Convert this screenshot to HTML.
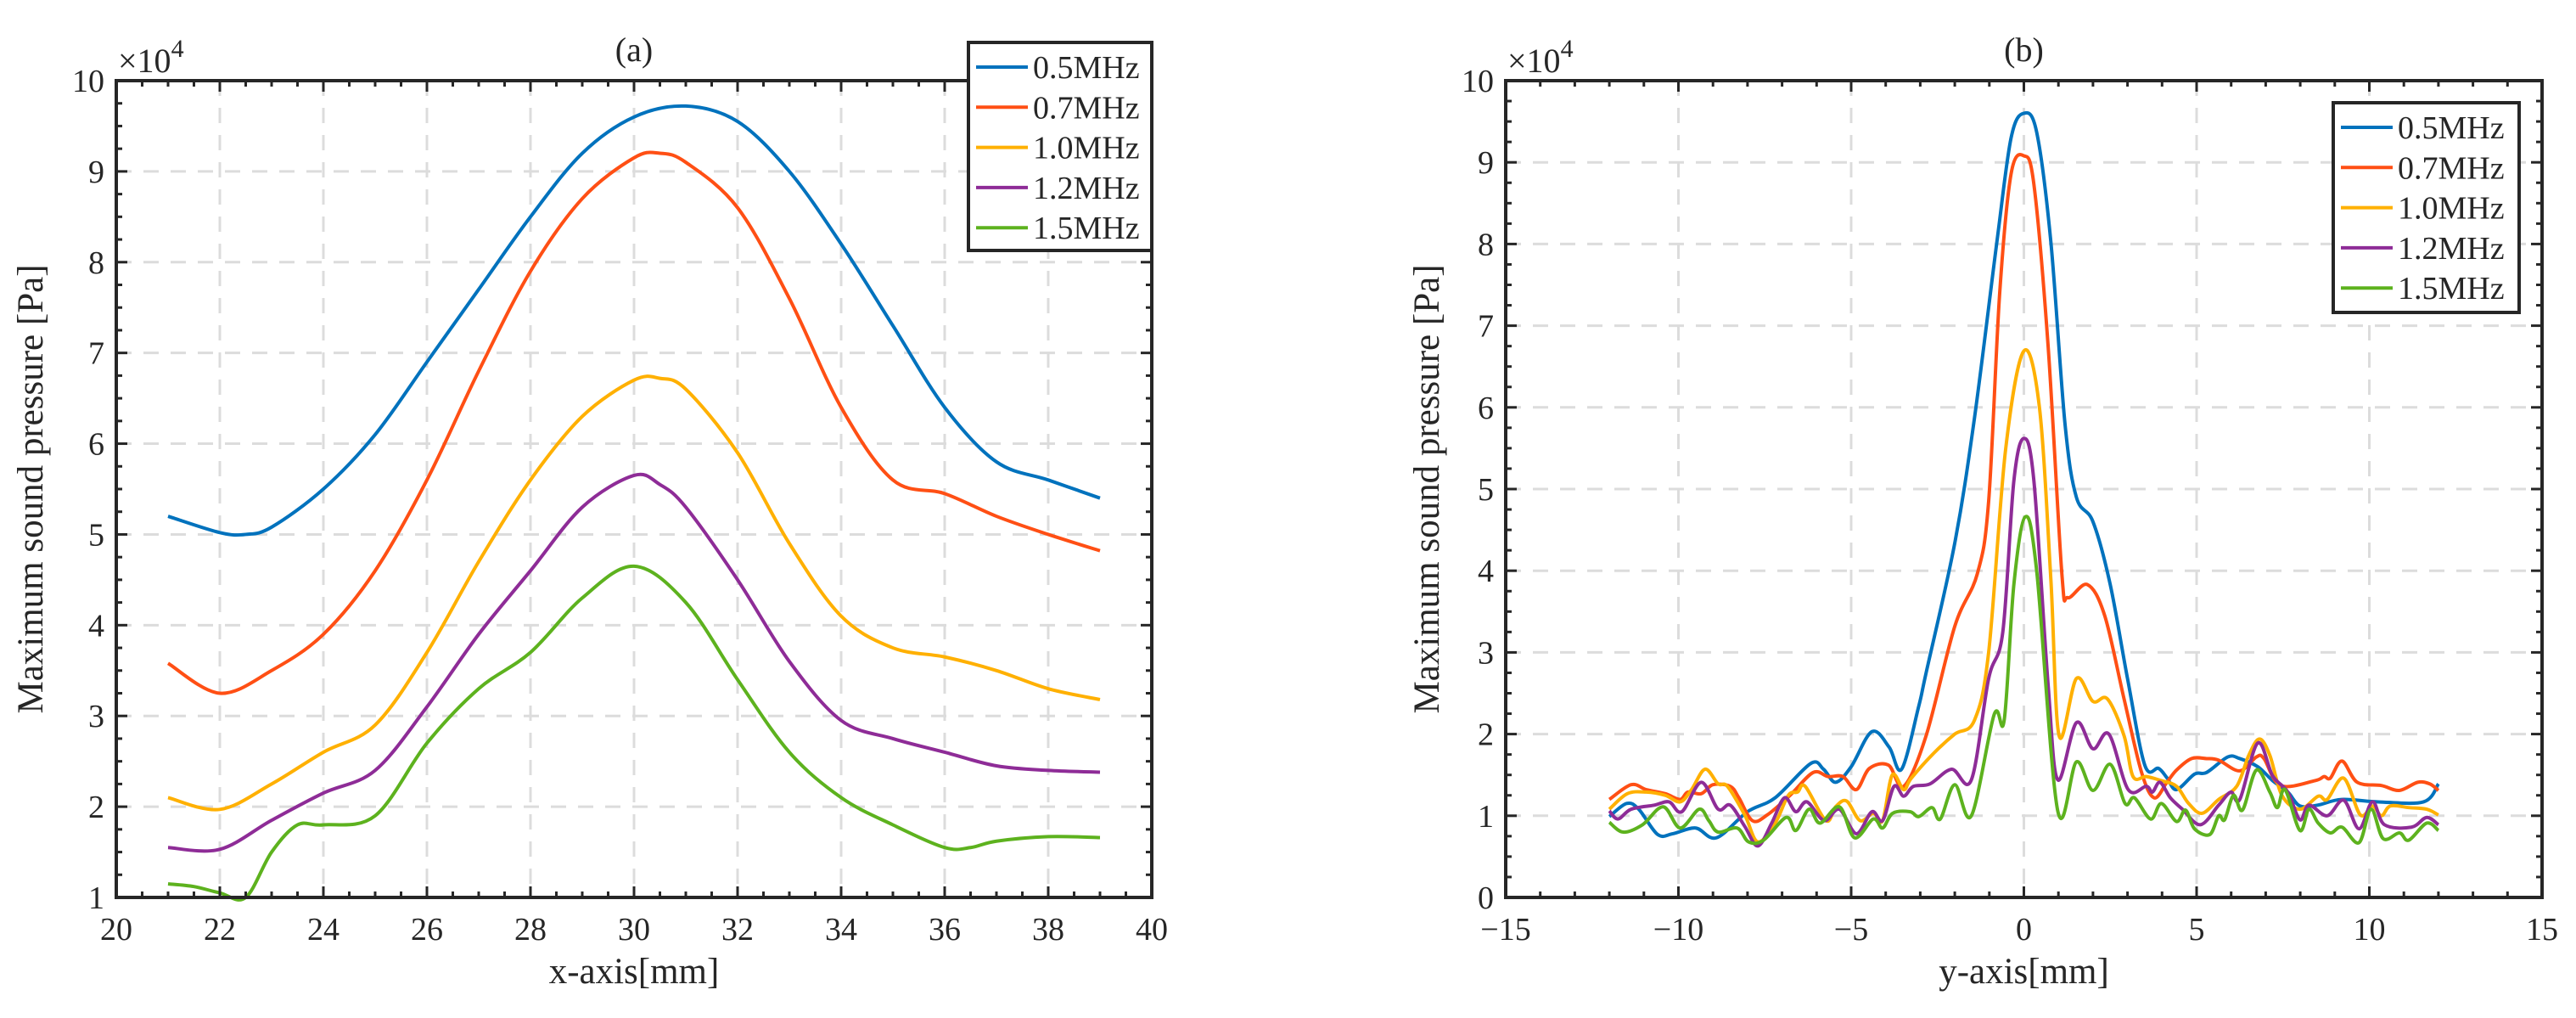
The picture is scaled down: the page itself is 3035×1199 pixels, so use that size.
<!DOCTYPE html>
<html><head><meta charset="utf-8"><style>
html,body{margin:0;padding:0;background:#fff}
svg{display:block}
text{font-family:"Liberation Serif",serif;fill:#262626}
</style></head><body>
<svg id="fig" xmlns="http://www.w3.org/2000/svg" width="3035" height="1199" viewBox="0 0 3035 1199">
<rect width="3035" height="1199" fill="#fff"/>
</svg>
<script>
// ---- Chart (a) data ----
const aSeriesNames = ["0.5MHz","0.7MHz","1.0MHz","1.2MHz","1.5MHz"];
const aX05 = [21,22,22.5,23,24,25,26,27,28,29,30,31,32,33,34,35,36,37,38,39];
const aY05 = [5.2,5.02,5.0,5.08,5.5,6.1,6.9,7.7,8.5,9.2,9.6,9.72,9.55,9.0,8.2,7.3,6.4,5.8,5.6,5.4];
const aX07 = [21,22,23,24,25,26,27,28,29,30,30.5,31,32,33,34,35,36,37,38,39];
const aY07 = [3.58,3.25,3.5,3.9,4.6,5.6,6.8,7.9,8.7,9.15,9.2,9.1,8.6,7.6,6.4,5.6,5.45,5.2,5.0,4.82];
const aX10 = [21,22,23,24,25,26,27,28,29,30,30.5,31,32,33,34,35,36,37,38,39];
const aY10 = [2.1,1.97,2.25,2.6,2.9,3.7,4.7,5.6,6.3,6.7,6.72,6.6,5.9,4.9,4.1,3.75,3.65,3.5,3.3,3.18];
const aX12 = [21,22,23,24,25,26,27,28,29,30,30.5,31,32,33,34,35,36,37,38,39];
const aY12 = [1.55,1.53,1.85,2.15,2.4,3.1,3.9,4.6,5.3,5.65,5.55,5.3,4.5,3.6,2.95,2.75,2.6,2.45,2.4,2.38];
const aX15 = [21,21.5,22,22.5,23,23.5,24,25,26,27,28,29,30,31,32,33,34,35,36,36.5,37,38,39];
const aY15 = [1.15,1.12,1.05,1.0,1.5,1.8,1.8,1.9,2.7,3.3,3.7,4.3,4.65,4.25,3.4,2.6,2.1,1.8,1.55,1.55,1.62,1.67,1.66];
const aXTicks = [20,22,24,26,28,30,32,34,36,38,40];
const aYTicks = [1,2,3,4,5,6,7,8,9,10];

// ---- Chart (b) data ----
const bX05 = [-12,-11.5,-11.15,-10.6,-10.16,-9.5,-8.9,-8,-7.2,-6.17,-5.8,-5.45,-5,-4.4,-3.9,-3.54,-3.05,-2.83,-2,-1.43,-0.78,-0.37,0,0.37,0.78,1.19,1.52,2,2.5,3,3.5,3.9,4.15,4.42,4.94,5.29,5.9,6.25,6.77,7.2,7.64,7.99,8.5,9.2,10.26,11.57,12];
const bY05 = [0.99,1.15,1.08,0.77,0.78,0.85,0.73,1.05,1.22,1.64,1.57,1.41,1.6,2.03,1.84,1.57,2.33,2.75,4.34,5.87,8.03,9.3,9.6,9.37,8.03,5.8,4.9,4.6,3.83,2.68,1.62,1.58,1.46,1.32,1.51,1.53,1.72,1.7,1.6,1.43,1.29,1.12,1.13,1.2,1.17,1.17,1.39];
const bX07 = [-12,-11.37,-10.93,-10.38,-9.95,-9.73,-9.34,-9,-8.5,-8.25,-7.86,-7.43,-6.77,-6.1,-5.67,-5.24,-4.85,-4.47,-3.92,-3.48,-2.83,-2,-1.35,-1.02,-0.7,-0.37,0,0.29,0.7,1.1,1.27,1.84,2.34,2.9,3.4,3.77,4.14,4.42,4.85,5.29,5.64,6.25,6.73,6.95,7.43,8.43,8.69,8.87,9.21,9.65,10.35,10.87,11.4,11.75,12];
const bY07 = [1.2,1.38,1.32,1.27,1.2,1.29,1.27,1.38,1.36,1.22,0.94,1.01,1.25,1.53,1.48,1.48,1.32,1.58,1.62,1.36,1.98,3.32,3.96,4.85,7.4,8.86,9.08,8.73,6.76,3.96,3.67,3.83,3.45,2.43,1.54,1.22,1.41,1.56,1.7,1.7,1.68,1.55,1.72,1.7,1.37,1.43,1.48,1.46,1.67,1.41,1.37,1.31,1.41,1.39,1.31];
const bX10 = [-12,-11.48,-10.93,-10.38,-9.95,-9.62,-9.23,-8.85,-8.58,-8.08,-7.7,-7.2,-6.82,-6.55,-6.33,-5.73,-5.45,-5.13,-4.74,-4.36,-4.09,-3.81,-3.48,-3.26,-2.6,-2.0,-1.43,-1.02,-0.53,0,0.45,0.78,1.02,1.52,2.0,2.42,2.9,3.16,3.54,3.98,4.42,4.77,5.16,5.64,6.16,6.51,6.82,7.12,7.47,7.99,8.52,8.78,9.26,9.74,10.09,10.35,10.61,11.14,11.66,12];
const bY10 = [1.08,1.27,1.29,1.25,1.17,1.32,1.57,1.39,1.36,1.01,0.68,0.91,1.25,1.29,1.36,0.94,1.11,1.18,0.94,1.03,0.94,1.5,1.32,1.46,1.77,2.0,2.17,3.0,5.48,6.69,6.0,3.9,1.98,2.68,2.4,2.43,1.98,1.48,1.48,1.43,1.36,1.15,1.03,1.2,1.36,1.74,1.94,1.74,1.25,1.08,1.24,1.2,1.46,1.01,1.12,1.0,1.12,1.1,1.08,1.01];
const bX12 = [-12,-11.75,-11.37,-10.7,-10.27,-9.9,-9.34,-8.85,-8.5,-8.08,-7.7,-7.3,-6.93,-6.6,-6.28,-5.78,-5.34,-4.85,-4.4,-4.09,-3.76,-3.48,-3.2,-2.72,-2.09,-1.52,-1.02,-0.61,-0.29,0,0.29,0.7,0.98,1.52,2.0,2.46,3.02,3.54,3.72,3.94,4.24,4.59,5.11,5.64,5.99,6.25,6.77,7.2,7.64,7.99,8.25,8.78,9.26,9.7,10.09,10.44,11.22,11.66,12];
const bY12 = [1.06,0.96,1.08,1.13,1.17,1.05,1.41,1.08,1.13,0.87,0.63,0.91,1.22,1.05,1.17,0.94,1.08,0.78,1.05,0.94,1.36,1.24,1.36,1.39,1.57,1.44,2.68,3.25,5.1,5.62,5.1,2.61,1.44,2.14,1.82,2.0,1.32,1.36,1.29,1.41,1.22,1.08,0.89,1.13,1.29,1.2,1.89,1.49,1.29,0.95,1.13,1.0,1.19,0.84,1.17,0.89,0.86,0.98,0.89];
const bX15 = [-12,-11.6,-11.04,-10.44,-9.95,-9.4,-9.12,-8.85,-8.3,-7.97,-7.54,-6.88,-6.6,-6.22,-5.9,-5.34,-4.9,-4.36,-4.09,-3.8,-3.3,-3.04,-2.66,-2.42,-2.0,-1.52,-0.86,-0.57,-0.29,0.04,0.37,0.98,1.52,2.0,2.5,2.93,3.2,3.67,3.98,4.42,4.68,4.94,5.38,5.64,5.81,6.07,6.33,6.73,7.12,7.34,7.56,7.99,8.25,8.52,8.87,9.21,9.7,10.05,10.4,10.87,11.14,11.66,12];
const bY15 = [0.92,0.8,0.89,1.11,0.85,1.08,0.94,0.8,0.85,0.68,0.7,0.98,0.82,1.08,0.91,1.11,0.73,0.96,0.85,1.03,1.05,0.99,1.1,0.96,1.38,1.0,2.24,2.17,3.83,4.66,4.0,1.06,1.66,1.31,1.63,1.15,1.22,0.96,1.15,0.93,1.07,0.84,0.77,1.0,0.95,1.25,1.07,1.56,1.29,1.1,1.32,0.82,1.08,0.91,0.79,0.86,0.67,1.08,0.72,0.79,0.7,0.91,0.82];
const bXTicks = [-15,-10,-5,0,5,10,15];
const bYTicks = [0,1,2,3,4,5,6,7,8,9,10];

const colors = ["#0072BD","#FF4F14","#FFB000","#8E2C97","#5DB21E"];
const NS = "http://www.w3.org/2000/svg";
const svg = document.getElementById("fig");
function mk(tag, attrs, parent){const e=document.createElementNS(NS,tag);for(const k in attrs)e.setAttribute(k,attrs[k]);(parent||svg).appendChild(e);return e;}

function smoothPath(pts){
  let d="M"+pts[0][0].toFixed(2)+","+pts[0][1].toFixed(2);
  for(let i=0;i<pts.length-1;i++){
    const p0=pts[Math.max(0,i-1)],p1=pts[i],p2=pts[i+1],p3=pts[Math.min(pts.length-1,i+2)];
    const c1x=p1[0]+(p2[0]-p0[0])/6,c1y=p1[1]+(p2[1]-p0[1])/6;
    const c2x=p2[0]-(p3[0]-p1[0])/6,c2y=p2[1]-(p3[1]-p1[1])/6;
    d+=" C"+c1x.toFixed(2)+","+c1y.toFixed(2)+" "+c2x.toFixed(2)+","+c2y.toFixed(2)+" "+p2[0].toFixed(2)+","+p2[1].toFixed(2);
  }
  return d;
}

function drawChart(cfg){
  const g=mk("g",{});
  
  
  const {L,R,T,B,x0,x1,y0,y1}=cfg;
  const sx=v=>L+(v-x0)/(x1-x0)*(R-L);
  const sy=v=>B-(v-y0)/(y1-y0)*(B-T);
  const grid=mk("g",{stroke:"#dcdcdc","stroke-width":3,"stroke-dasharray":"18,14"},g);
  
  
  cfg.xticks.forEach(v=>{if(v>x0&&v<x1)mk("line",{x1:sx(v),x2:sx(v),y1:T,y2:B},grid);});
  cfg.yticks.forEach(v=>{if(v>y0&&v<y1)mk("line",{x1:L,x2:R,y1:sy(v),y2:sy(v)},grid);});
  cfg.series.forEach((s,i)=>{
    const pts=s.x.map((xv,j)=>[sx(xv),sy(s.y[j])]);
    const p=mk("path",{d:smoothPath(pts),fill:"none",stroke:colors[i],"stroke-width":4,"stroke-linejoin":"round"},g);
    
    
  });
  const tk=mk("g",{stroke:"#262626","stroke-width":3},g);
  
  
  for(let v=x0;v<=x1+1e-9;v+=cfg.xminor){
    const major=cfg.xticks.some(t=>Math.abs(t-v)<1e-6);const len=major?13:7;
    mk("line",{x1:sx(v),x2:sx(v),y1:B,y2:B-len},tk);mk("line",{x1:sx(v),x2:sx(v),y1:T,y2:T+len},tk);
  }
  for(let v=y0;v<=y1+1e-9;v+=cfg.yminor){
    const major=cfg.yticks.some(t=>Math.abs(t-v)<1e-6);const len=major?13:7;
    mk("line",{x1:L,x2:L+len,y1:sy(v),y2:sy(v)},tk);mk("line",{x1:R,x2:R-len,y1:sy(v),y2:sy(v)},tk);
  }
  const box=mk("rect",{x:L,y:T,width:R-L,height:B-T,fill:"none",stroke:"#262626","stroke-width":4},g);
  
  
  cfg.xticks.forEach(v=>{
    const t=mk("text",{x:sx(v),y:B+50,"font-size":38,"text-anchor":"middle"},g);
    t.textContent=(v<0?"\u2212":"")+Math.abs(v);
    
    
  });
  cfg.yticks.forEach(v=>{
    const t=mk("text",{x:L-14,y:sy(v)+13,"font-size":38,"text-anchor":"end"},g);
    t.textContent=String(v);
    
    
  });
  const ex=mk("text",{x:L+2,y:T-10,"font-size":40},g);
  
  
  ex.textContent="\u00d710";
  const sup=mk("tspan",{"font-size":30,dy:-18},ex);sup.textContent="4";
  const ti=mk("text",{x:(L+R)/2,y:72,"font-size":40,"text-anchor":"middle"},g);
  ti.textContent=cfg.title;
  
  
  const xl=mk("text",{x:(L+R)/2,y:1158,"font-size":43,"text-anchor":"middle"},g);
  xl.textContent=cfg.xlabel;
  
  
  const yl=mk("text",{x:cfg.ylx,y:(T+B)/2,"font-size":43,"text-anchor":"middle",transform:"rotate(-90 "+cfg.ylx+" "+(T+B)/2+")"},g);
  yl.textContent="Maximum sound pressure [Pa]";
  
  
  const lg=mk("g",{},g);
  
  
  mk("rect",{x:cfg.lg.x,y:cfg.lg.y,width:cfg.lg.w,height:cfg.lg.h,fill:"#fff",stroke:"#262626","stroke-width":4},lg);
  cfg.names.forEach((n,i)=>{
    const yy=cfg.lg.y+29+i*47.3;
    const e=mk("g",{},lg);
    
    
    mk("line",{x1:cfg.lg.x+9,x2:cfg.lg.x+70,y1:yy,y2:yy,stroke:colors[i],"stroke-width":4},e);
    const t=mk("text",{x:cfg.lg.x+76,y:yy+13,"font-size":38},e);t.textContent=n;
  });
}

drawChart({name:"chart-a",L:137,R:1357,T:95,B:1057,x0:20,x1:40,y0:1,y1:10,xminor:0.5,yminor:0.25,
  xticks:aXTicks,yticks:aYTicks,title:"(a)",xlabel:"x-axis[mm]",ylx:50,names:aSeriesNames,
  series:[{x:aX05,y:aY05},{x:aX07,y:aY07},{x:aX10,y:aY10},{x:aX12,y:aY12},{x:aX15,y:aY15}],
  lg:{x:1141,y:50,w:216,h:245}});
drawChart({name:"chart-b",L:1774,R:2995,T:95,B:1057,x0:-15,x1:15,y0:0,y1:10,xminor:1,yminor:0.25,
  xticks:bXTicks,yticks:bYTicks,title:"(b)",xlabel:"y-axis[mm]",ylx:1695,names:aSeriesNames,
  series:[{x:bX05,y:bY05},{x:bX07,y:bY07},{x:bX10,y:bY10},{x:bX12,y:bY12},{x:bX15,y:bY15}],
  lg:{x:2749,y:121,w:219,h:247}});
</script>
</body></html>
